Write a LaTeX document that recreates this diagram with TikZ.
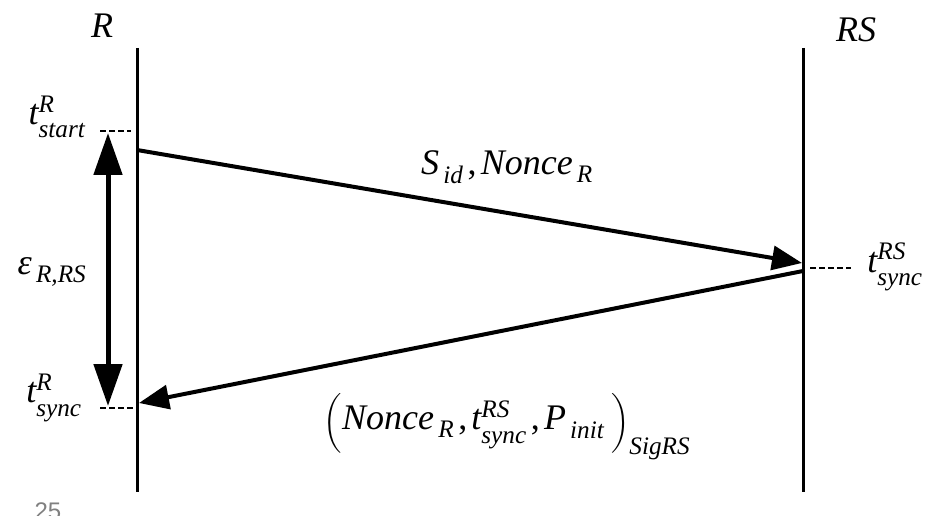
\documentclass[tikz,border=0pt]{standalone}
\usepackage{amsmath}
\usepackage{fontspec}
\setmainfont{Liberation Serif}[ItalicFont=Liberation Serif Italic]
\setsansfont{Liberation Sans}
\newfontfamily\tmsit{Liberation Serif Italic}
\usetikzlibrary{arrows.meta}
\newcommand\mi[1]{\text{\tmsit #1}}
\newcommand\up[1]{{\mi{#1}\rule[-0.1em]{0pt}{0.1em}}}
\newcommand\dn[1]{{\mi{#1}\rule{0pt}{0.5em}}}
\begin{document}
\begin{tikzpicture}[x=1pt,y=-1pt,
  every node/.style={font=\fontsize{36}{40}\selectfont, inner sep=0pt},
  life/.style={line width=3pt},
  msg/.style={line width=4pt, -{Triangle[length=30pt,width=24pt]}},
  span/.style={line width=5pt, {Triangle[length=42pt,width=28pt]}-{Triangle[length=42pt,width=28pt]}},
  tick/.style={line width=2pt, dash pattern=on 6pt off 3pt}]
\useasboundingbox (0,0) rectangle (938,516);
% lifelines
\coordinate (Rtop) at (137,48); \coordinate (Rbot) at (137,492);
\coordinate (Stop) at (803,48); \coordinate (Sbot) at (803,492);
\draw[life] (Rtop) -- (Rbot);
\draw[life] (Stop) -- (Sbot);
\node (lR) at (102,26) {$\mi{R}$};
\node (lRS) at (856,30) {$\mi{RS}$};
% messages
\coordinate (m1s) at (137,150); \coordinate (m1e) at (802,263);
\coordinate (m2s) at (803,271); \coordinate (m2e) at (139,403);
\draw[msg] (m1s) -- (m1e);
\draw[msg] (m2s) -- (m2e);
% ticks
\coordinate (ta1) at (100,131); \coordinate (ta2) at (131,131);
\coordinate (tb1) at (100,408); \coordinate (tb2) at (135,408);
\coordinate (tc1) at (810,268); \coordinate (tc2) at (851,268);
\draw[tick] (ta1) -- (ta2);
\draw[tick] (tb1) -- (tb2);
\draw[tick] (tc1) -- (tc2);
% span arrow
\coordinate (sa) at (108,133); \coordinate (sb) at (108,406);
\draw[span] (sa) -- (sb);
% labels
\node (tstart) at (57,117) {$\mi{t}^{\up{R}}_{\dn{start}}$};
\node (tsyncR) at (54,398) {$\mi{t}^{\up{R}}_{\dn{sync}}$};
\node (eps) at (52,272) {$\mi{ε}_{\,\mi{R,RS}}$};
\node (tsyncRS) at (895,267) {$\mi{t}^{\up{RS}}_{\dn{sync}}$};
\node (msg1) at (507,167) {$\mi{S}_{\,\mi{id}}\,\text{,}\,\mi{Nonce}_{\,\mi{R}}$};
\node (msg2) at (507,427) {$\biggl(\mi{Nonce}_{\,\mi{R}}\,\text{,}\,\mi{t}^{\up{RS}}_{\dn{sync}}\,\text{,}\,\mi{P}_{\,\mi{init}}\;\biggr)_{\mi{SigRS}}$};
\node[anchor=north, text=gray, font=\sffamily\fontsize{24}{28}\selectfont] (pg) at (48,503) {25};
\end{tikzpicture}
\end{document}
